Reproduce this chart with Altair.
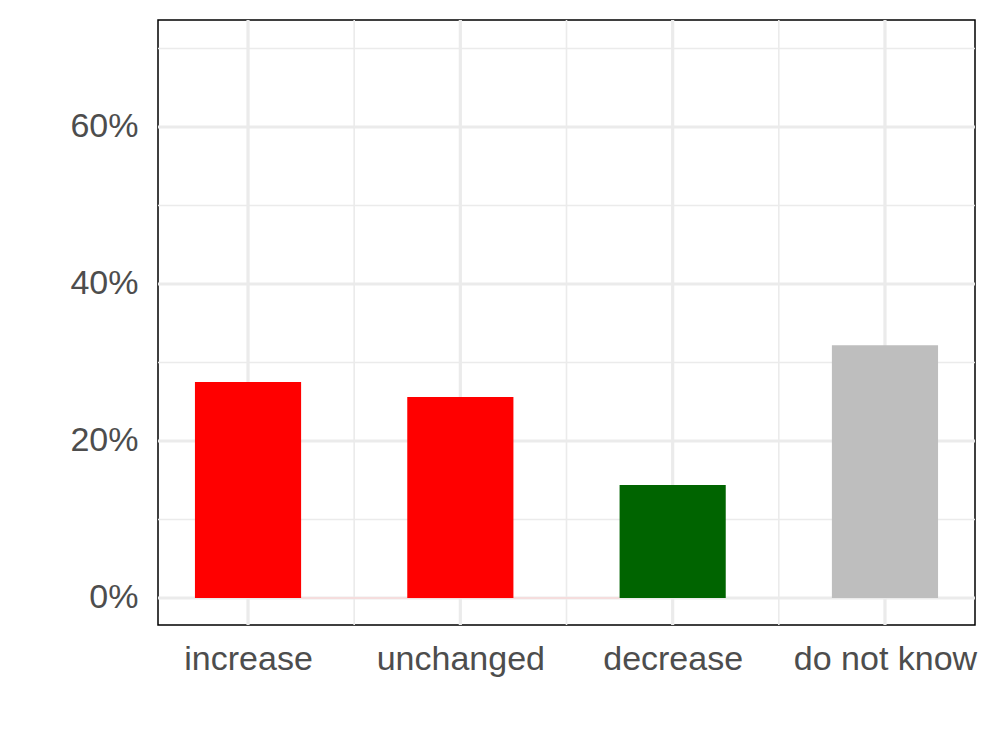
import altair as alt
import pandas as pd

categories = ["increase", "unchanged", "decrease", "do not know"]
shares = [27.5, 25.6, 14.4, 32.2]
colors = ["#FF0000", "#FF0000", "#006400", "#BEBEBE"]
y_major = [0, 20, 40, 60]
y_minor = [10, 30, 50, 70]
x_major = [1, 2, 3, 4]
x_minor = [1.5, 2.5, 3.5]

df = pd.DataFrame({
    "cat": categories,
    "pos": [1, 2, 3, 4],
    "share": shares,
    "color": colors,
})
df["x0"] = df["pos"] - 0.25
df["x1"] = df["pos"] + 0.25

xdom = [0.576, 4.424]
ydom = [-3.44, 73.63]
xs = alt.Scale(domain=xdom, nice=False, zero=False)
ys = alt.Scale(domain=ydom, nice=False, zero=False)

label_expr = "datum.value == 1 ? 'increase' : datum.value == 2 ? 'unchanged' : datum.value == 3 ? 'decrease' : datum.value == 4 ? 'do not know' : ''"

grid_color = "#EBEBEB"

hmaj = alt.Chart(pd.DataFrame({"y": y_major})).mark_rule(color=grid_color, strokeWidth=3.2).encode(
    y=alt.Y("y:Q", scale=ys))
hmin = alt.Chart(pd.DataFrame({"y": y_minor})).mark_rule(color=grid_color, strokeWidth=1.6).encode(
    y=alt.Y("y:Q", scale=ys))
vmaj = alt.Chart(pd.DataFrame({"x": x_major})).mark_rule(color=grid_color, strokeWidth=3.2).encode(
    x=alt.X("x:Q", scale=xs))
vmin = alt.Chart(pd.DataFrame({"x": x_minor})).mark_rule(color=grid_color, strokeWidth=1.6).encode(
    x=alt.X("x:Q", scale=xs))

base_line = alt.Chart(pd.DataFrame({"a": [1.25], "b": [2.75], "y": [0]})).mark_rule(
    color="#FFD0D0", strokeWidth=1.2).encode(
    x=alt.X("a:Q", scale=xs), x2="b:Q", y=alt.Y("y:Q", scale=ys))

bars = alt.Chart(df).mark_rect().encode(
    x=alt.X("x0:Q", scale=xs,
            axis=alt.Axis(values=x_major, labelExpr=label_expr, grid=False, ticks=False,
                          domain=False, title=None, labelFontSize=34, labelColor="#4D4D4D",
                          labelFont="Liberation Sans", labelPadding=17, labelLimit=0,
                          labelOverlap=False, labelFlush=False, labelBound=False)),
    x2="x1:Q",
    y=alt.Y("share:Q", scale=ys,
            axis=alt.Axis(values=y_major, labelExpr="datum.value + '%'", grid=False, ticks=False,
                          domain=False, title=None, labelFontSize=34, labelColor="#4D4D4D",
                          labelFont="Liberation Sans", labelPadding=20, labelLimit=0)),
    y2=alt.datum(0),
    color=alt.Color("color:N", scale=None),
)

chart = alt.layer(hmin, hmaj, vmin, vmaj, base_line, bars).properties(
    width=817, height=605,
    background="white",
    autosize=alt.AutoSizeParams(type="none"),
    padding={"left": 150, "top": 12, "right": 10, "bottom": 100},
).configure_view(stroke="black", strokeWidth=1.5)

chart.save("out.html", embed_options={"renderer": "svg", "actions": False})
